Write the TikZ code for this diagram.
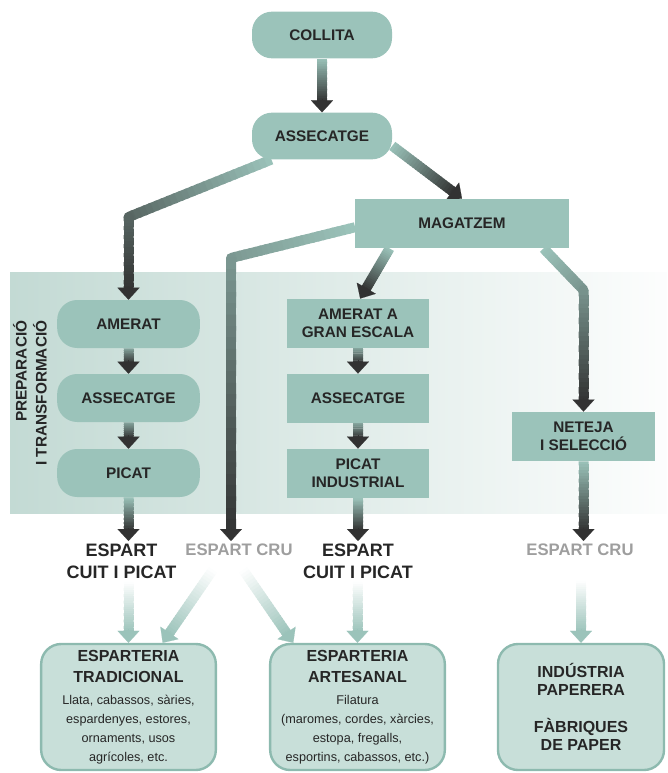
\documentclass[tikz,border=0pt]{standalone}
\usepackage{fontspec}
\setmainfont{Liberation Sans}
\usetikzlibrary{calc,arrows.meta,backgrounds}

\definecolor{boxfill}{RGB}{155,195,186}
\definecolor{boxpale}{RGB}{200,223,217}
\definecolor{boxline}{RGB}{141,186,175}
\definecolor{ink}{RGB}{38,38,38}
\definecolor{faint}{RGB}{158,158,158}
\definecolor{arrowdark}{RGB}{50,50,50}
\definecolor{bandleft}{RGB}{195,218,212}

\newcommand\usetitle{\bfseries\fontsize{12}{15.75}\selectfont}

% shaded shaft: from, to, start mix, end mix, cut at the end
\newcommand\shaft[5]{%
  \path ($(#2)!#5!(#1)$) coordinate (shaftend);
  \foreach \i in {1,...,24}{%
    \pgfmathsetmacro\ta{(\i-1)/24}%
    \pgfmathsetmacro\tb{min(1,(\i+0.4)/24)}%
    \pgfmathtruncatemacro\mix{#3+(#4-#3)*(\i-0.5)/24}%
    \draw[line width=7.5pt,gradto!\mix!gradfrom]
      ($(#1)!\ta!(shaftend)$) -- ($(#1)!\tb!(shaftend)$);
  }%
}
% arrow head: from, to, colour
\newcommand\head[3]{%
  \draw[line width=0.1pt,#3,-{Triangle[width=16.5pt,length=9pt]}]
    ($(#2)!10pt!(#1)$) -- (#2);
}

\begin{document}
\begin{tikzpicture}[x=0.75pt,y=-0.75pt,
  roundstage/.style={fill=boxfill,rounded corners=15pt,text=ink,
    font=\bfseries\fontsize{11.5}{13.7}\selectfont,align=center,
    minimum width=107pt,minimum height=36pt,inner sep=0pt},
  squarestage/.style={roundstage,sharp corners,minimum height=37pt},
  product/.style={text=ink,font=\bfseries\fontsize{13.5}{16.5}\selectfont,
    align=center,inner sep=2pt,anchor=north},
  rawproduct/.style={product,text=faint,font=\bfseries\fontsize{12.5}{15}\selectfont},
  outlet/.style={fill=boxpale,draw=boxline,line width=1.8pt,rounded corners=15pt,
    text=ink,font=\fontsize{9.5}{14.25}\selectfont,align=center,
    minimum width=131pt,minimum height=94.5pt,inner sep=0pt},
  ]
  \useasboundingbox (0,0) rectangle (667,773);

  % stages
  \node[roundstage,minimum width=105pt,minimum height=35pt] (collita) at (322,35) {COLLITA};
  \node[roundstage,minimum width=105pt,minimum height=35pt] (assecatge) at (322,136) {ASSECATGE};
  \node[squarestage,minimum width=160pt] (magatzem) at (462,223.5) {MAGATZEM};

  \node[roundstage] (amerat) at (128.5,324) {AMERAT};
  \node[roundstage] (assecatgeA) at (128.5,398) {ASSECATGE};
  \node[roundstage] (picat) at (128.5,473) {PICAT};

  \node[squarestage] (ameratG) at (358,323.5) {AMERAT A\\GRAN ESCALA};
  \node[squarestage] (assecatgeB) at (358,398.5) {ASSECATGE};
  \node[squarestage] (picatI) at (358,473.5) {PICAT\\INDUSTRIAL};
  \node[squarestage] (neteja) at (583.5,436.5) {NETEJA\\I SELECCIÓ};

  \node[rotate=90,anchor=east,align=right,text=ink,
    font=\bfseries\fontsize{11.5}{15}\selectfont] (prep) at (30,316)
    {PREPARACIÓ\\I TRANSFORMACIÓ};

  % products
  \node[product] (cuitA) at (121.5,541) {ESPART\\CUIT I PICAT};
  \node[rawproduct] (cruA) at (239,541) {ESPART CRU};
  \node[product] (cuitB) at (358,541) {ESPART\\CUIT I PICAT};
  \node[rawproduct] (cruB) at (580,541) {ESPART CRU};

  % uses
  \node[outlet] (tradicional) at (128.5,707)
    {\usetitle ESPARTERIA\\[1.5pt]\usetitle TRADICIONAL\\[2pt]
     Llata, cabassos, sàries,\\espardenyes, estores,\\ornaments, usos\\agrícoles, etc.};
  \node[outlet] (artesanal) at (357.5,707)
    {\usetitle ESPARTERIA\\[1.5pt]\usetitle ARTESANAL\\[2pt]
     Filatura\\(maromes, cordes, xàrcies,\\estopa, fregalls,\\esportins, cabassos, etc.)};
  \node[outlet,minimum width=124.5pt,font=\bfseries\fontsize{12}{13.5}\selectfont] (paperera) at (581,707)
    {INDÚSTRIA\\PAPERERA\\[14pt]FÀBRIQUES\\DE PAPER};

  \coordinate (bendA) at (amerat.north |- 0,217);
  \coordinate (bendB) at (231,258);
  \coordinate (bendC) at (neteja.north |- 0,290);
  \coordinate (cruendA) at (bendB |- cruA.north);
  \coordinate (cruendB) at (neteja.south |- cruB.north);
  \coordinate (cuitendA) at (picat.south |- cuitA.north);
  \coordinate (cuitendB) at (picatI.south |- cuitB.north);
  \coordinate (cuittailA) at (cuitA.south -| tradicional.north);
  \coordinate (cuittailB) at (cuitB.south -| artesanal.north);
  \coordinate (crutailL) at ($(cruA.south)+(-26,11)$);
  \coordinate (crutailR) at ($(cruA.south)+(4,11)$);
  \coordinate (crutailP) at ($(cruB.south)+(1,22)$);

  \begin{pgfonlayer}{background}
    \shade[left color=bandleft,right color=white!96!bandleft] (10,272) rectangle (667,513);

    % main flow
    \colorlet{gradfrom}{boxfill}\colorlet{gradto}{arrowdark}
    \shaft{collita.south}{assecatge.north}{0}{100}{8pt}
    \head{collita.south}{assecatge.north}{arrowdark}
    \shaft{assecatge.-8}{magatzem.north}{0}{100}{8pt}
    \head{assecatge.-8}{magatzem.north}{arrowdark}

    \shaft{assecatge.205}{bendA}{0}{65}{0pt}
    \fill[gradto!65!gradfrom] (bendA) circle[radius=3.75pt];
    \shaft{bendA}{amerat.north}{65}{100}{8pt}
    \head{bendA}{amerat.north}{arrowdark}

    \shaft{magatzem.182}{bendB}{0}{30}{0pt}
    \fill[gradto!30!gradfrom] (bendB) circle[radius=3.75pt];
    \shaft{bendB}{cruendA}{30}{100}{8pt}
    \head{bendB}{cruendA}{arrowdark}

    \shaft{magatzem.199}{ameratG.85}{0}{100}{8pt}
    \head{magatzem.199}{ameratG.85}{arrowdark}

    \shaft{magatzem.-17}{bendC}{0}{33}{0pt}
    \fill[gradto!33!gradfrom] (bendC) circle[radius=3.75pt];
    \shaft{bendC}{neteja.north}{33}{100}{8pt}
    \head{bendC}{neteja.north}{arrowdark}

    \shaft{amerat.south}{assecatgeA.north}{20}{100}{8pt}
    \head{amerat.south}{assecatgeA.north}{arrowdark}
    \shaft{assecatgeA.south}{picat.north}{20}{100}{8pt}
    \head{assecatgeA.south}{picat.north}{arrowdark}
    \shaft{picat.south}{cuitendA}{0}{100}{8pt}
    \head{picat.south}{cuitendA}{arrowdark}

    \shaft{ameratG.south}{assecatgeB.north}{20}{100}{8pt}
    \head{ameratG.south}{assecatgeB.north}{arrowdark}
    \shaft{assecatgeB.south}{picatI.north}{20}{100}{8pt}
    \head{assecatgeB.south}{picatI.north}{arrowdark}
    \shaft{picatI.south}{cuitendB}{0}{100}{8pt}
    \head{picatI.south}{cuitendB}{arrowdark}

    \shaft{neteja.south}{cruendB}{0}{100}{8pt}
    \head{neteja.south}{cruendB}{arrowdark}

    % to the uses
    \colorlet{gradfrom}{white}\colorlet{gradto}{boxfill}
    \shaft{cuittailA}{tradicional.north}{0}{100}{8pt}
    \head{cuittailA}{tradicional.north}{boxfill}
    \shaft{crutailL}{tradicional.62}{0}{100}{8pt}
    \head{crutailL}{tradicional.62}{boxfill}
    \shaft{crutailR}{artesanal.135}{0}{100}{8pt}
    \head{crutailR}{artesanal.135}{boxfill}
    \shaft{cuittailB}{artesanal.north}{0}{100}{8pt}
    \head{cuittailB}{artesanal.north}{boxfill}
    \shaft{crutailP}{paperera.north}{0}{100}{8pt}
    \head{crutailP}{paperera.north}{boxfill}
  \end{pgfonlayer}
\end{tikzpicture}
\end{document}
